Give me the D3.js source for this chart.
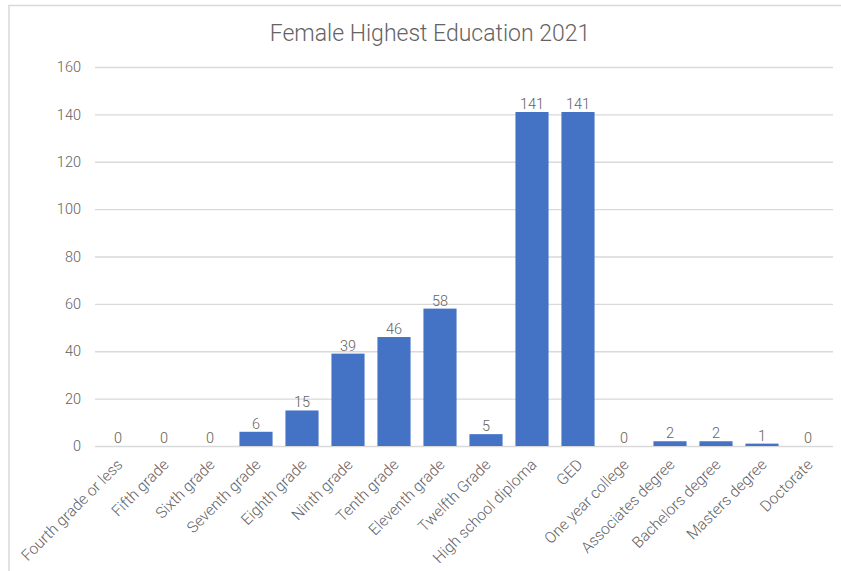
<!DOCTYPE html>
<html>
<head>
<meta charset="utf-8">
<script src="https://cdn.jsdelivr.net/npm/d3@7"></script>
<style>
    body { margin: 0; background: #fff; }
    svg { display: block; font-family: "Roboto Light", Roboto, sans-serif; font-weight: 300; }
</style>
</head>
<body>
<div id="chart"></div>
<script>
const title = 'Female Highest Education 2021';
const categories = [
    'Fourth grade or less', 'Fifth grade', 'Sixth grade', 'Seventh grade',
    'Eighth grade', 'Ninth grade', 'Tenth grade', 'Eleventh grade',
    'Twelfth Grade', 'High school diploma', 'GED', 'One year college',
    'Associates degree', 'Bachelors degree', 'Masters degree', 'Doctorate'
];
const values = [0, 0, 0, 6, 15, 39, 46, 58, 5, 141, 141, 0, 2, 2, 1, 0];
const yTicks = [0, 20, 40, 60, 80, 100, 120, 140, 160];

const width = 841, height = 571;
const plot = { left: 95, right: 831, top: 67, bottom: 446 };
const textColor = '#636363';

const svg = d3.select('#chart').append('svg')
    .attr('width', width)
    .attr('height', height);

// chart area frame
svg.append('rect')
    .attr('x', 9).attr('y', 5.5)
    .attr('width', 850).attr('height', 600)
    .attr('fill', '#fff')
    .attr('stroke', '#d9d9d9')
    .attr('stroke-width', 1.5);

const x = d3.scaleBand()
    .domain(categories)
    .range([plot.left, plot.right])
    .paddingInner(0.28)
    .paddingOuter(0.14);

const y = d3.scaleLinear()
    .domain([0, 160])
    .range([plot.bottom, plot.top]);

svg.append('text')
    .attr('x', 430)
    .attr('y', 41)
    .attr('text-anchor', 'middle')
    .attr('fill', textColor)
    .style('font-size', '23px')
    .text(title);

// gridlines + y labels
const yAxis = svg.append('g')
    .attr('transform', `translate(${plot.left},0)`)
    .call(d3.axisLeft(y).tickValues(yTicks)
        .tickSize(-(plot.right + 2 - plot.left)).tickPadding(14));
yAxis.select('.domain').remove();
yAxis.selectAll('.tick line').attr('stroke', '#d9d9d9').attr('stroke-width', 1.3);
yAxis.selectAll('.tick text')
    .attr('fill', textColor)
    .style('font-size', '14.5px')
    .style('font-family', '"Roboto Light", Roboto, sans-serif');

svg.selectAll('.bar')
    .data(values)
    .enter().append('rect')
    .attr('class', 'bar')
    .attr('x', (d, i) => x(categories[i]))
    .attr('y', d => y(d))
    .attr('width', x.bandwidth())
    .attr('height', d => y(0) - y(d))
    .attr('fill', '#4472c4');

svg.selectAll('.value')
    .data(values)
    .enter().append('text')
    .attr('class', 'value')
    .attr('x', (d, i) => x(categories[i]) + x.bandwidth() / 2)
    .attr('y', d => y(d) - 3)
    .attr('text-anchor', 'middle')
    .attr('fill', textColor)
    .style('font-size', '14.5px')
    .text(d => d);

// rotated category labels
svg.selectAll('.cat')
    .data(categories)
    .enter().append('text')
    .attr('class', 'cat')
    .attr('transform', d => `translate(${x(d) + x.bandwidth() / 2 - 2},${plot.bottom + 12}) rotate(-45)`)
    .attr('text-anchor', 'end')
    .attr('dy', '0.7em')
    .attr('fill', textColor)
    .style('font-size', '15.5px')
    .text(d => d);
</script>
</body>
</html>
